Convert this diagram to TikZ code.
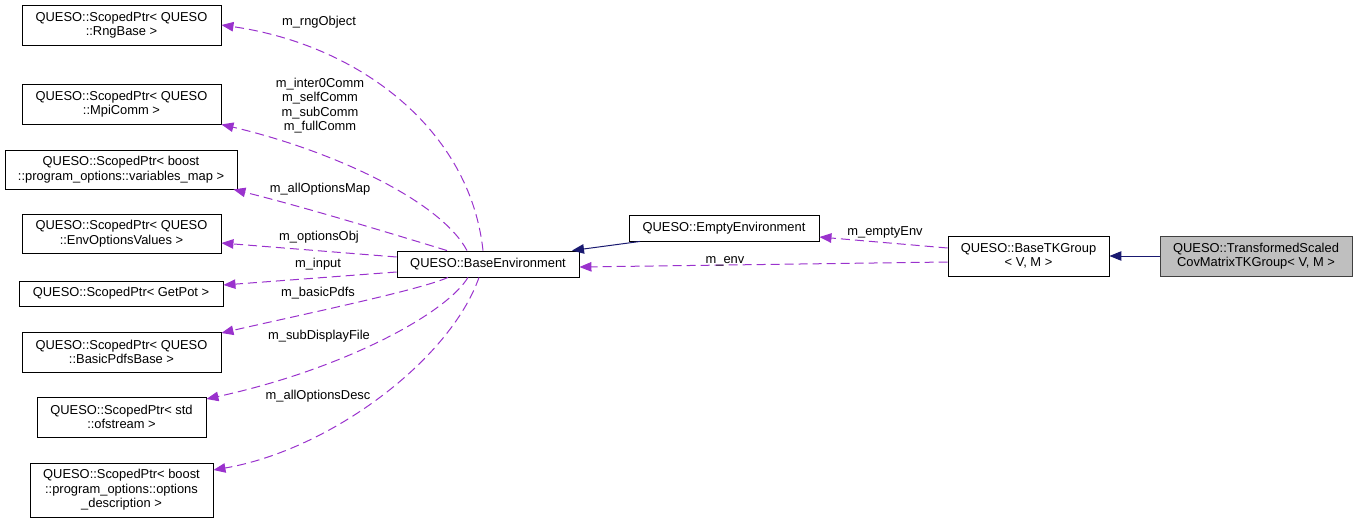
\documentclass[tikz,border=0pt]{standalone}
\usepackage{fontspec}
\setmainfont{Liberation Sans}
\usetikzlibrary{arrows.meta}
\definecolor{edgepurple}{HTML}{9A32CD}
\definecolor{inhnavy}{HTML}{191970}
\definecolor{hlgray}{HTML}{BFBFBF}
\tikzset{
  box/.style={draw=black, line width=0.9pt, inner sep=0pt, align=center, font=\fontsize{12.9}{14.5}\selectfont},
  lbl/.style={inner sep=0pt, align=center, font=\fontsize{12.9}{14.5}\selectfont},
  usage/.style={draw=edgepurple, line width=1pt, dash pattern=on 9pt off 5pt, -{Triangle[length=12pt,width=9.5pt]}},
  inherit/.style={draw=inhnavy, line width=1pt, -{Triangle[length=12pt,width=9.5pt]}}
}
\begin{document}
\begin{tikzpicture}[x=1pt,y=-1pt]
\useasboundingbox (0,0) rectangle (1357,524);
% left column
\node[box, minimum width=199pt, minimum height=40pt] (rng) at (121.5,25) {QUESO::ScopedPtr< QUESO\\::RngBase >};
\node[box, minimum width=199pt, minimum height=40pt] (mpi) at (121.5,104) {QUESO::ScopedPtr< QUESO\\::MpiComm >};
\node[box, minimum width=232pt, minimum height=39pt] (varmap) at (121,169.5) {QUESO::ScopedPtr< boost\\::program\_options::variables\_map >};
\node[box, minimum width=199pt, minimum height=39pt] (envopt) at (121.5,233.5) {QUESO::ScopedPtr< QUESO\\::EnvOptionsValues >};
\node[box, minimum width=204pt, minimum height=25pt] (getpot) at (121,293.5) {QUESO::ScopedPtr< GetPot >};
\node[box, minimum width=199pt, minimum height=40pt] (basicpdfs) at (121.5,352) {QUESO::ScopedPtr< QUESO\\::BasicPdfsBase >};
\node[box, minimum width=169pt, minimum height=40pt] (ofstream) at (121.5,417) {QUESO::ScopedPtr< std\\::ofstream >};
\node[box, minimum width=183pt, minimum height=54pt] (optdesc) at (121.5,490) {QUESO::ScopedPtr< boost\\::program\_options::options\\\_description >};
% middle / right
\node[box, minimum width=182pt, minimum height=26pt] (baseenv) at (488,264) {QUESO::BaseEnvironment};
\node[box, minimum width=190pt, minimum height=26pt] (emptyenv) at (724,228) {QUESO::EmptyEnvironment};
\node[box, minimum width=161pt, minimum height=40pt] (basetk) at (1028.5,256) {QUESO::BaseTKGroup\\< V, M >};
\node[box, draw=black!75, fill=hlgray, minimum width=192pt, minimum height=40pt] (transf) at (1256,256) {QUESO::TransformedScaled\\CovMatrixTKGroup< V, M >};
% usage edges
\draw[usage] ([xshift=-5pt]baseenv.north) .. controls (470,130) and (360,45) .. (rng.east);
\draw[usage] ([xshift=-21pt]baseenv.north) .. controls (440,200) and (330,150) .. (mpi.south east);
\draw[usage] ([xshift=-41pt]baseenv.north) .. controls (380,230) and (300,206) .. ([xshift=-4pt]varmap.south east);
\draw[usage] ([yshift=7pt]baseenv.west) -- ([yshift=-9.5pt]envopt.east);
\draw[usage] ([yshift=-8pt]baseenv.west) -- ([yshift=8.5pt]getpot.east);
\draw[usage] ([xshift=-40pt]baseenv.south) .. controls (420,290) and (300,315) .. ([yshift=19pt]basicpdfs.east);
\draw[usage] ([xshift=-20pt]baseenv.south) .. controls (445,315) and (340,370) .. ([yshift=18pt]ofstream.east);
\draw[usage] ([xshift=-9pt]baseenv.south) .. controls (450,360) and (330,450) .. ([yshift=20pt]optdesc.east);
\draw[usage] ([yshift=8pt]basetk.west) -- ([yshift=-9pt]emptyenv.east);
\draw[usage] ([yshift=-6pt]basetk.west) -- ([yshift=-3pt]baseenv.east);
% inheritance edges
\draw[inherit] (transf.west) -- (basetk.east);
\draw[inherit] ([xshift=-84pt]emptyenv.south) -- ([xshift=84pt]baseenv.north);
% labels
\node[lbl] (l1) at (319,22) {m\_rngObject};
\node[lbl] (l2) at (320,105.5) {m\_inter0Comm\\m\_selfComm\\m\_subComm\\m\_fullComm};
\node[lbl] (l3) at (320,189) {m\_allOptionsMap};
\node[lbl] (l4) at (319,237) {m\_optionsObj};
\node[lbl] (l5) at (318,264) {m\_input};
\node[lbl] (l6) at (318,293) {m\_basicPdfs};
\node[lbl] (l7) at (319,336) {m\_subDisplayFile};
\node[lbl] (l8) at (318,396) {m\_allOptionsDesc};
\node[lbl] (l9) at (885,232) {m\_emptyEnv};
\node[lbl] (l10) at (725,261) {m\_env};
\end{tikzpicture}
\end{document}
